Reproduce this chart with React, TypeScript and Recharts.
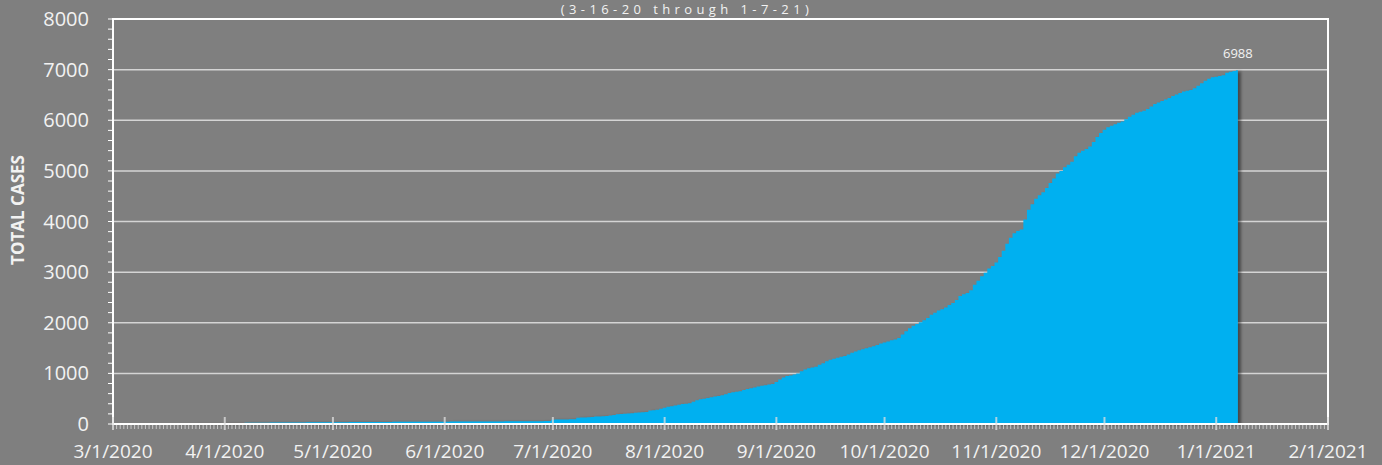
import React from 'react';
import { AreaChart, Area, XAxis, YAxis, CartesianGrid, ReferenceArea } from 'recharts';

// ---- data (cumulative cases, one value per day, starting 3/16/2020) ----
const firstDate = '3/16/2020';
const originDate = '3/1/2020';

const marchCases = [1, 1, 2, 3, 3, 5, 6, 7, 9, 10, 11, 12, 13, 15, 16, 17];
const aprilCases = [18, 19, 20, 21, 21, 22, 23, 24, 24, 25, 26, 26, 27, 28, 28, 29, 29, 30, 30, 31, 31, 32, 32, 33, 33, 34, 34, 35, 35, 36];
const mayCases = [36, 36, 37, 37, 37, 38, 38, 38, 39, 39, 39, 40, 40, 40, 41, 41, 41, 42, 42, 42, 43, 43, 43, 44, 44, 44, 45, 45, 45, 46, 46];
const juneCases = [46, 46, 47, 47, 47, 48, 48, 48, 49, 49, 49, 50, 50, 50, 51, 51, 51, 52, 52, 52, 53, 53, 53, 54, 54, 55, 55, 56, 57, 58];
const julyCases = [85, 87, 88, 90, 91, 92, 93, 122, 126, 130, 135, 140, 148, 150, 155, 160, 168, 178, 192, 200, 203, 208, 214, 220, 226, 232, 238, 265, 272, 282, 300];
const augustCases = [320, 340, 350, 365, 380, 395, 400, 410, 440, 470, 490, 500, 515, 530, 545, 555, 570, 590, 610, 625, 635, 645, 670, 690, 705, 720, 740, 755, 765, 780, 790];
const septemberCases = [830, 880, 920, 950, 960, 980, 1000, 1040, 1075, 1100, 1115, 1130, 1170, 1200, 1240, 1270, 1290, 1310, 1330, 1345, 1375, 1405, 1430, 1455, 1475, 1495, 1515, 1535, 1560, 1590];
const octoberCases = [1610, 1630, 1655, 1670, 1700, 1770, 1830, 1890, 1940, 1975, 2010, 2050, 2095, 2160, 2200, 2240, 2265, 2300, 2350, 2390, 2450, 2530, 2565, 2590, 2640, 2750, 2830, 2920, 2990, 3070, 3120];
const novemberCases = [3190, 3300, 3420, 3560, 3680, 3770, 3810, 3840, 4040, 4230, 4340, 4450, 4520, 4580, 4660, 4760, 4850, 4950, 5000, 5070, 5120, 5180, 5290, 5360, 5400, 5430, 5480, 5570, 5670, 5750];
const decemberCases = [5810, 5860, 5890, 5920, 5950, 5975, 6020, 6070, 6110, 6150, 6170, 6190, 6220, 6270, 6320, 6350, 6380, 6410, 6440, 6480, 6510, 6540, 6570, 6585, 6600, 6630, 6680, 6730, 6780, 6820, 6850];
const januaryCases = [6860, 6875, 6890, 6940, 6960, 6975, 6988];

const xTickLabels = ['3/1/2020', '4/1/2020', '5/1/2020', '6/1/2020', '7/1/2020', '8/1/2020', '9/1/2020', '10/1/2020', '11/1/2020', '12/1/2020', '1/1/2021', '2/1/2021'];
const yMajorTicks = [0, 1000, 2000, 3000, 4000, 5000, 6000, 7000, 8000];

const titleText = '(3-16-20 through 1-7-21)';
const yAxisTitle = 'TOTAL CASES';

// ---- helpers ----
const DAY_MS = 86400000;
const parseDate = (s: string) => {
  const [m, d, y] = s.split('/').map(Number);
  return Date.UTC(y, m - 1, d);
};
const dayOf = (s: string) => Math.round((parseDate(s) - parseDate(originDate)) / DAY_MS);

const allCases = [
  ...marchCases, ...aprilCases, ...mayCases, ...juneCases, ...julyCases, ...augustCases,
  ...septemberCases, ...octoberCases, ...novemberCases, ...decemberCases, ...januaryCases,
];
const startDay = dayOf(firstDate);
const data = allCases.map((cases, i) => ({ day: startDay + i, cases }));
const lastIndex = data.length - 1;

const monthTickDays = xTickLabels.map(dayOf);
const xMin = monthTickDays[0];
const xMax = monthTickDays[monthTickDays.length - 1];
const dailyTicks = Array.from({ length: xMax - xMin + 1 }, (_, i) => xMin + i);
const yMinorTicks = Array.from({ length: 41 }, (_, i) => i * 200);

const BG = '#7f7f7f';
const BLUE = '#00b0f0';
const TEXT = '#f2f2f2';
const FONT = '"Open Sans", "Liberation Sans", sans-serif';

const X_TICK_SIZE = 7;
const X_TICK_MARGIN = 14;

const XTick = (props: any) => {
  const { x, y, payload } = props;
  const axisY = y - X_TICK_SIZE - X_TICK_MARGIN;
  const idx = monthTickDays.indexOf(payload.value);
  if (idx < 0) {
    return <line x1={x} x2={x} y1={axisY + 1} y2={axisY + 5} stroke="#c8c8c8" strokeWidth={1} />;
  }
  return (
    <g>
      <line x1={x} x2={x} y1={axisY - 7} y2={axisY + 6} stroke="#e0e0e0" strokeOpacity={0.75} strokeWidth={2} />
      <text x={x} y={y} dy="0.71em" textAnchor="middle" fill={TEXT} fontSize={19} fontFamily={FONT}>
        {xTickLabels[idx]}
      </text>
    </g>
  );
};

const YTick = (props: any) => {
  const { x, y, payload } = props;
  if (payload.value % 1000 !== 0) return <g />;
  return (
    <text x={x} y={y} dy="0.355em" textAnchor="end" fill={TEXT} fontSize={20} fontFamily={FONT}>
      {payload.value}
    </text>
  );
};

const LastLabel = (props: any) => {
  const { x, y, value, index } = props;
  if (index !== lastIndex) return <g />;
  return (
    <text x={x} y={y - 12} textAnchor="middle" fill={TEXT} fontSize={13} fontFamily={FONT}>
      {value}
    </text>
  );
};

export default function App() {
  return (
    <div style={{ position: 'fixed', left: 0, top: 0, width: 1382, height: 465, background: BG, overflow: 'hidden' }}>
      <AreaChart
        width={1382}
        height={465}
        data={data}
        margin={{ top: 19, right: 54, bottom: 0, left: 0 }}
      >
        <defs>
          <filter id="areaShadow" x="-5%" y="-5%" width="115%" height="115%">
            <feDropShadow dx="3" dy="1" stdDeviation="1.5" floodColor="#000000" floodOpacity="0.45" />
          </filter>
        </defs>
        <CartesianGrid
          vertical={false}
          stroke="#d4d4d4"
          strokeWidth={1.5}
          horizontalValues={yMajorTicks.slice(1)}
        />
        <ReferenceArea x1={xMin} x2={xMax} y1={0} y2={8000} fill="none" stroke="#ffffff" strokeWidth={2} />
        <XAxis
          type="number"
          dataKey="day"
          domain={[xMin, xMax]}
          ticks={dailyTicks}
          interval={0}
          height={41}
          axisLine={{ stroke: '#ffffff', strokeWidth: 2 }}
          tickLine={false}
          tickSize={X_TICK_SIZE}
          tickMargin={X_TICK_MARGIN}
          tick={XTick}
        />
        <YAxis
          type="number"
          domain={[0, 8000]}
          ticks={yMinorTicks}
          interval={0}
          width={113}
          axisLine={{ stroke: '#ffffff', strokeWidth: 2 }}
          tickLine={{ stroke: '#ffffff', strokeWidth: 1 }}
          tickSize={5}
          tickMargin={19}
          tick={YTick}
        />
        <Area
          type="step"
          dataKey="cases"
          stroke="none"
          fill={BLUE}
          fillOpacity={1}
          filter="url(#areaShadow)"
          isAnimationActive={false}
          label={LastLabel}
        />
      </AreaChart>
      <svg width={1382} height={465} style={{ position: 'absolute', left: 0, top: 0, pointerEvents: 'none' }}>
        <text x={687} y={14} textAnchor="middle" fill={TEXT} fontSize={13} fontFamily={FONT} letterSpacing={4.4}>
          {titleText}
        </text>
        <text
          x={0}
          y={0}
          transform="translate(24,210) rotate(-90)"
          textAnchor="middle"
          fill={TEXT}
          fontSize={17}
          fontWeight="bold"
          fontFamily={FONT}
        >
          {yAxisTitle}
        </text>
      </svg>
    </div>
  );
}
